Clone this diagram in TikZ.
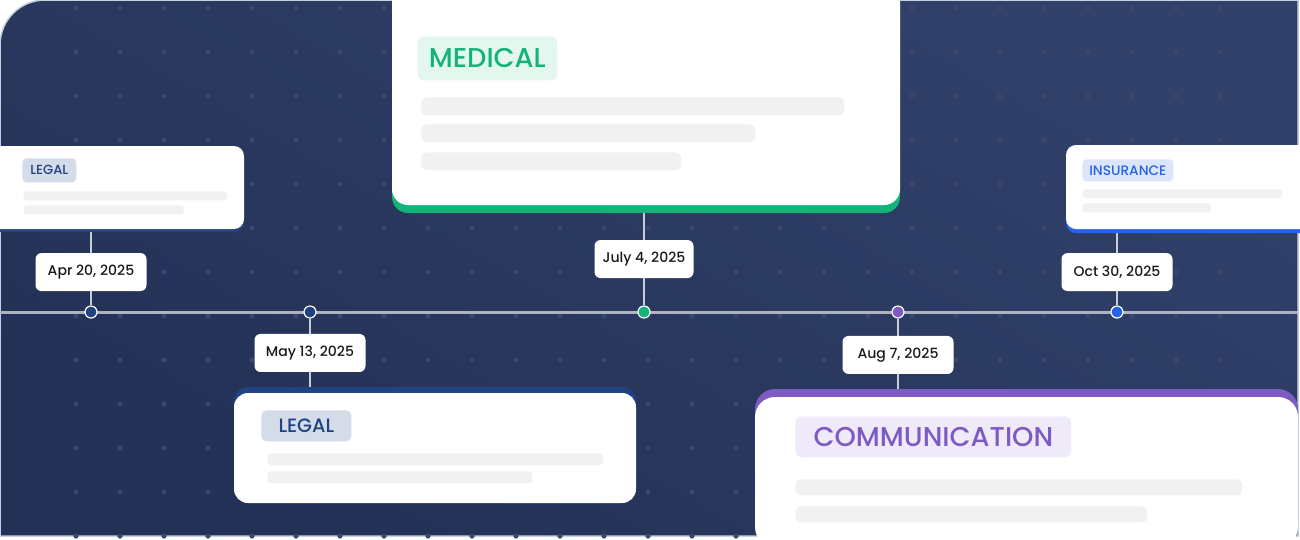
\documentclass[tikz,border=0pt]{standalone}
\usepackage{fontspec}
\setmainfont{Poppins}[UprightFont=* Medium]
\usetikzlibrary{positioning,shadows}

\newlength{\pxu}
\setlength{\pxu}{0.02cm}

\definecolor{bgtop}{HTML}{31416A}
\definecolor{bgbottom}{HTML}{243156}
\definecolor{framegrey}{HTML}{C6D0DF}
\definecolor{griddot}{HTML}{3A476C}
\definecolor{axisgrey}{HTML}{AEB3C1}
\definecolor{stemgrey}{HTML}{C9CDD6}
\definecolor{barfill}{HTML}{F1F1F1}
\definecolor{datetext}{HTML}{1A1A1A}
\definecolor{legalnavy}{HTML}{1F4383}
\definecolor{legaltag}{HTML}{D3DCE8}
\definecolor{medgreen}{HTML}{13B47A}
\definecolor{medtag}{HTML}{E4F7EF}
\definecolor{insblue}{HTML}{2563EB}
\definecolor{instag}{HTML}{DCE6FB}
\definecolor{compurple}{HTML}{7E5BC2}
\definecolor{comtag}{HTML}{EFEAFA}

\pgfdeclarelayer{background}
\pgfsetlayers{background,main}

\begin{document}
\begin{tikzpicture}[x=\pxu, y=-\pxu,
    card/.style={fill=white, rounded corners=#1, inner sep=0pt, outer sep=0pt, anchor=north west},
    card/.default=10\pxu,
    trim below/.style 2 args={general shadow={fill=#1, shadow yshift=-#2}},
    trim above/.style 2 args={general shadow={fill=#1, shadow yshift=#2}},
    tag/.style 2 args={fill=#1, text=#2, rounded corners=4\pxu, inner sep=0pt, anchor=north west},
    bar/.style={fill=barfill, rounded corners=4\pxu, inner sep=0pt, anchor=north west},
    datebox/.style={fill=white, rounded corners=6\pxu, minimum width=111\pxu, minimum height=38\pxu,
                    inner sep=0pt, text=datetext, font=\fontsize{8}{9.6}\selectfont},
    eventdot/.style={circle, fill=#1, draw=white, line width=1.2\pxu, minimum size=12\pxu, inner sep=0pt},
    stem/.style={draw=stemgrey, line width=2\pxu},
    axis/.style={draw=axisgrey, line width=3\pxu}
  ]
  \useasboundingbox (0,0) rectangle (1300,539);

  % backdrop, dot grid and time axis
  \begin{pgfonlayer}{background}
    \shade[top color=bgtop, bottom color=bgbottom, shading angle=-30, draw=framegrey, line width=1.5\pxu]
      (0,536) -- (0,45) arc[start angle=180, end angle=90, radius=45\pxu] -- (1298,0) -- (1298,536) -- cycle;
    \foreach \gx in {76,120,...,1220}
      \foreach \gy in {8,52,...,536}
        \fill[griddot] (\gx,\gy) circle[radius=2.6\pxu];
    \coordinate (axisleft) at (0,312);
    \coordinate (axisright) at (1298,312);
    \draw[axis] (axisleft) -- (axisright);
  \end{pgfonlayer}

  % cards above the axis
  \node[card, trim below={legalnavy}{3\pxu}, minimum width=256\pxu, minimum height=83\pxu] (legalleft) at (-12,146) {};
  \node[tag={legaltag}{legalnavy}, minimum width=54\pxu, minimum height=24\pxu, font=\fontsize{7.5}{9}\selectfont] (legallefttag) at (22,158) {LEGAL};
  \node[bar, minimum width=204\pxu, minimum height=9\pxu] (legalleftbarone) at (23,191) {};
  \node[bar, minimum width=161\pxu, minimum height=9\pxu] (legalleftbartwo) at (23,205) {};

  \node[card=16\pxu, trim below={medgreen}{8\pxu}, minimum width=508\pxu, minimum height=225\pxu] (medical) at (392,-20) {};
  \node[tag={medtag}{medgreen}, rounded corners=7\pxu, minimum width=140\pxu, minimum height=44\pxu, font=\fontsize{15.5}{18}\selectfont] (medicaltag) at (417,36) {MEDICAL};
  \node[bar, rounded corners=6\pxu, minimum width=423\pxu, minimum height=18\pxu] (medicalbarone) at (421,97) {};
  \node[bar, rounded corners=6\pxu, minimum width=334\pxu, minimum height=18\pxu] (medicalbartwo) at (421,124) {};
  \node[bar, rounded corners=6\pxu, minimum width=260\pxu, minimum height=18\pxu] (medicalbarthree) at (421,152) {};

  \node[card, trim below={insblue}{4\pxu}, minimum width=250\pxu, minimum height=84\pxu] (insurance) at (1066,145) {};
  \node[tag={instag}{insblue}, minimum width=91\pxu, minimum height=22\pxu, font=\fontsize{7.8}{9.6}\selectfont] (insurancetag) at (1082,159) {INSURANCE};
  \node[bar, minimum width=200\pxu, minimum height=9\pxu] (insurancebarone) at (1082,189) {};
  \node[bar, minimum width=129\pxu, minimum height=9\pxu] (insurancebartwo) at (1082,203) {};

  % cards below the axis
  \node[card=14\pxu, trim above={legalnavy}{6\pxu}, minimum width=402\pxu, minimum height=110\pxu] (legalbottom) at (234,393) {};
  \node[tag={legaltag}{legalnavy}, rounded corners=5\pxu, minimum width=90\pxu, minimum height=31\pxu, font=\fontsize{11}{13}\selectfont] (legalbottomtag) at (261,410) {LEGAL};
  \node[bar, minimum width=336\pxu, minimum height=12\pxu] (legalbottombarone) at (267,453) {};
  \node[bar, minimum width=265\pxu, minimum height=12\pxu] (legalbottombartwo) at (267,471) {};

  \node[card=20\pxu, trim above={compurple}{8\pxu}, minimum width=543\pxu, minimum height=150\pxu] (communication) at (755,397) {};
  \node[tag={comtag}{compurple}, rounded corners=7\pxu, minimum width=276\pxu, minimum height=41\pxu, font=\fontsize{15.5}{18}\selectfont] (communicationtag) at (795,416) {COMMUNICATION};
  \node[bar, rounded corners=6\pxu, minimum width=447\pxu, minimum height=16\pxu] (communicationbarone) at (795,479) {};
  \node[bar, rounded corners=6\pxu, minimum width=352\pxu, minimum height=16\pxu] (communicationbartwo) at (795,506) {};

  % events on the axis
  \node[eventdot=legalnavy] (aprdot) at (91,312) {};
  \node[eventdot=legalnavy] (maydot) at (310,312) {};
  \node[eventdot=medgreen] (juldot) at (644,312) {};
  \node[eventdot=compurple] (augdot) at (898,312) {};
  \node[eventdot=insblue] (octdot) at (1117,312) {};

  \node[datebox, above=14\pxu of aprdot] (aprdate) {Apr 20, 2025};
  \node[datebox, below=15\pxu of maydot] (maydate) {May 13, 2025};
  \node[datebox, above=27\pxu of juldot, minimum width=99\pxu] (juldate) {July 4, 2025};
  \node[datebox, below=17\pxu of augdot] (augdate) {Aug 7, 2025};
  \node[datebox, above=14\pxu of octdot] (octdate) {Oct 30, 2025};

  \begin{pgfonlayer}{background}
    \draw[stem] (aprdot) -- (aprdot |- legalleft.south);
    \draw[stem] (maydot) -- (maydot |- legalbottom.north);
    \draw[stem] (juldot) -- (juldot |- medical.south);
    \draw[stem] (augdot) -- (augdot |- communication.north);
    \draw[stem] (octdot) -- (octdot |- insurance.south);
  \end{pgfonlayer}
\end{tikzpicture}
\end{document}
